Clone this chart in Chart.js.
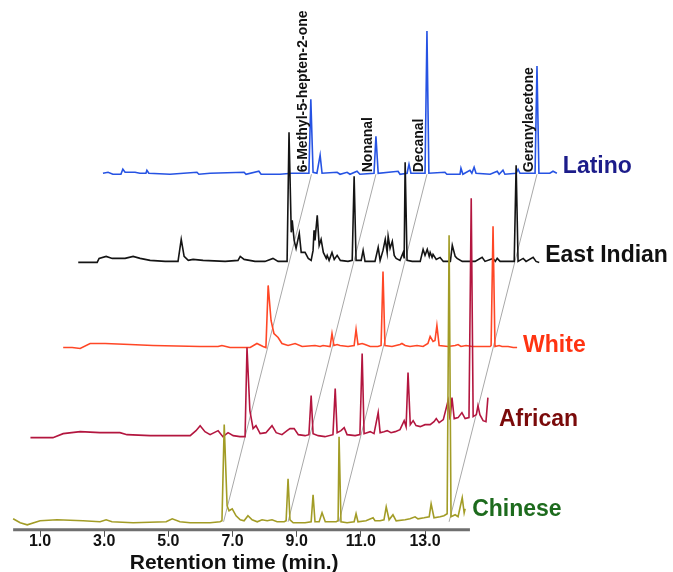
<!DOCTYPE html>
<html>
<head>
<meta charset="utf-8">
<script src="https://cdn.jsdelivr.net/npm/chart.js@4.4.0/dist/chart.umd.min.js"></script>
<style>
  html, body { margin: 0; padding: 0; background: #fff; }
  #wrap { width: 673px; height: 572px; }
</style>
</head>
<body>
<div id="wrap"><canvas id="gc"></canvas></div>
<script>
// retention times (min) and detector signal (arb. units)
const traceNames = ['Chinese', 'African', 'White', 'East Indian', 'Latino'];

const chineseTime = [0.16,0.38,0.6,1.0,1.53,2.34,2.87,3.06,3.24,3.9,4.93,5.12,5.36,5.68,6.3,6.61,6.67,6.74,6.83,6.89,6.99,7.11,7.24,7.36,7.48,7.61,7.77,7.92,8.08,8.23,8.39,8.61,8.67,8.73,8.79,8.89,9.26,9.45,9.51,9.57,9.7,9.79,9.89,10.23,10.29,10.32,10.38,10.57,10.79,10.85,10.91,11.16,11.38,11.44,11.6,11.72,11.79,11.88,12.0,12.1,12.38,12.53,12.69,12.78,12.97,13.13,13.19,13.28,13.47,13.59,13.69,13.75,13.81,13.94,14.03,14.16,14.22,14.25];
const chineseSignal = [3,-1,-3,1,2,1,0,2,0,-1,0,3,0,-1,-1,0,1,97,16,11,13,6,2,1,6,2,0,2,1,2,0,0,1,43,2,-1,-1,0,27,0,0,9,0,0,1,85,0,-1,0,8,0,1,4,1,1,2,15,2,7,1,2,3,5,3,4,5,18,4,5,6,8,286,5,7,5,24,9,13];

const africanTime = [0.0,0.7,1.02,1.55,2.17,2.79,3.01,3.73,4.98,5.16,5.29,5.44,5.6,5.85,6.0,6.16,6.32,6.53,6.69,6.75,6.84,6.94,7.03,7.16,7.34,7.53,7.66,7.84,8.0,8.09,8.22,8.35,8.56,8.68,8.75,8.81,8.97,9.18,9.43,9.5,9.56,9.68,9.78,9.87,10.12,10.27,10.34,10.4,10.59,10.71,10.84,10.9,11.02,11.12,11.24,11.37,11.52,11.65,11.71,11.77,11.84,11.93,12.02,12.15,12.3,12.46,12.58,12.65,12.74,12.87,13.02,13.08,13.14,13.21,13.33,13.45,13.55,13.67,13.74,13.8,13.9,13.95,14.01,14.11,14.2,14.26];
const africanSignal = [0,0,4,6,5,5,3,2,2,7,12,6,3,7,1,5,2,1,1,90,27,9,12,4,5,12,5,3,7,9,9,3,2,3,42,4,2,1,3,49,5,7,10,3,2,3,84,4,6,4,25,5,6,7,5,6,8,17,11,65,13,17,12,11,13,13,16,19,15,18,37,18,40,19,20,25,19,20,239,21,23,32,23,17,16,40];

const whiteTime = [0.35,0.63,0.88,1.19,1.66,2.43,3.15,4.62,5.18,5.3,5.55,6.18,6.39,6.58,6.67,6.74,6.83,6.92,7.05,7.17,7.36,7.58,7.8,8.2,8.36,8.45,8.67,8.73,8.79,8.89,8.98,9.23,9.42,9.48,9.54,9.67,9.76,9.92,10.16,10.26,10.32,10.38,10.6,10.85,10.91,11.01,11.16,11.38,11.57,11.72,11.79,11.88,11.94,12.0,12.07,12.35,12.57,12.66,12.75,12.91,13.1,13.66,13.69,13.75,13.81,13.94,14.03,14.22,14.38,14.5];
const whiteSignal = [0,0,-1,4,4,3,2,1,1,2,0,0,4,1,0,62,27,14,10,4,2,4,1,2,1,2,1,14,2,3,2,1,2,18,3,4,3,1,1,2,76,2,1,3,4,2,1,2,1,4,11,6,7,22,2,1,2,3,1,2,1,1,2,121,1,2,1,1,0,0];

const eastIndianTime = [0.13,0.72,0.78,1.0,1.19,1.59,1.84,2.06,2.37,2.84,3.24,3.34,3.43,3.56,3.71,4.02,4.71,5.11,5.18,5.3,5.64,5.95,6.2,6.36,6.64,6.7,6.77,6.8,6.86,6.92,7.02,7.08,7.2,7.3,7.39,7.45,7.48,7.51,7.58,7.64,7.7,7.77,7.86,7.89,7.95,8.04,8.11,8.2,8.3,8.54,8.67,8.73,8.79,8.95,9.01,9.07,9.38,9.48,9.54,9.63,9.7,9.76,9.79,9.85,9.92,9.98,10.04,10.16,10.26,10.29,10.32,10.38,10.54,10.79,10.88,10.94,11.01,11.07,11.1,11.16,11.19,11.29,11.41,11.51,11.73,11.79,11.88,11.94,12.1,12.5,12.72,12.81,13.06,13.13,13.19,13.28,13.72,13.78,13.84,14.0,14.09,14.31,14.4,14.5];
const eastIndianSignal = [0,0,4,6,4,4,6,4,2,1,1,23,6,2,3,2,1,2,6,3,1,1,4,1,1,130,30,42,22,14,29,10,10,4,2,12,32,22,47,17,23,10,4,7,2,10,3,7,2,1,2,86,2,2,12,1,1,15,2,12,23,10,26,14,21,7,4,2,10,4,100,2,1,1,13,7,13,6,10,5,8,3,5,1,1,17,6,4,1,1,5,1,4,1,4,1,1,97,1,4,1,5,1,0];

const latinoTime = [0.22,0.38,0.53,0.78,0.84,0.91,1.06,1.22,1.37,1.56,1.59,1.65,2.31,3.15,3.21,3.56,4.62,4.68,5.08,5.15,5.74,6.11,6.64,6.7,6.77,6.89,6.99,7.05,7.52,7.61,7.83,7.92,8.14,8.23,8.67,8.73,8.8,9.42,9.48,9.7,9.76,9.82,10.26,10.32,10.38,10.88,10.94,11.35,11.38,11.44,11.66,11.72,11.79,11.85,12.29,12.51,12.57,12.69,12.75,13.1,13.16,13.22,13.69,13.75,13.81,14.15,14.25,14.31,14.37];
const latinoSignal = [1,2,0,0,5,2,2,2,1,1,4,1,0,2,0,1,2,0,3,0,0,1,1,75,2,1,19,1,2,0,2,0,3,0,1,38,1,3,0,1,10,1,1,143,1,2,0,0,6,0,4,1,7,1,0,3,0,4,0,1,5,1,1,108,1,1,3,2,1];

const compoundNames = ['6-Methyl-5-hepten-2-one', 'Nonanal', 'Decanal', 'Geranylacetone'];
const compoundTimes = [6.72, 8.73, 10.32, 13.75];

const tickValues = [1, 3, 5, 7, 9, 11, 13];
const axisSpan = [0.16, 14.4];

// pseudo-3D stacking: each trace is pushed right (min) and up (units)
const shiftMin = [0, 0.70, 1.37, 2.06, 2.74];
const liftUnits = [8, 92, 182, 267, 355];
const traceColors = ['#a29c26', '#b3163f', '#ff4726', '#141414', '#2653e3'];
const labelColors = ['#1d6b1d', '#7a0a0a', '#ff3311', '#111111', '#1c1c8a'];
const labelGap = [7, 11, 6, 6, 6];
const labelRaise = [6, 12, -4, 0, 1];

const traceTimes = [chineseTime, africanTime, whiteTime, eastIndianTime, latinoTime];
const traceSignals = [chineseSignal, africanSignal, whiteSignal, eastIndianSignal, latinoSignal];

const FONT = '"Liberation Sans", Arial, sans-serif';

function tracePoints(k) {
  return traceTimes[k].map((t, i) => ({ x: t + shiftMin[k], y: traceSignals[k][i] + liftUnits[k] }));
}

const datasets = [];
traceNames.forEach((name, k) => {
  datasets.push({
    label: name,
    data: tracePoints(k),
    borderColor: traceColors[k],
    borderWidth: 1.6,
    pointRadius: 0,
    tension: 0,
    clip: false,
    order: 1
  });
});
compoundNames.forEach((name, i) => {
  datasets.push({
    label: name + ' link',
    data: [
      { x: compoundTimes[i] + shiftMin[0], y: liftUnits[0] },
      { x: compoundTimes[i] + shiftMin[4], y: liftUnits[4] }
    ],
    borderColor: '#a8a8a8',
    borderWidth: 1,
    pointRadius: 0,
    clip: false,
    order: 5
  });
});
datasets.push({
  label: 'axis',
  data: [{ x: axisSpan[0], y: 0 }, { x: axisSpan[1], y: 0 }],
  borderColor: '#6f6f6f',
  borderWidth: 3,
  pointRadius: 0,
  clip: false,
  order: 0
});

const labelPlugin = {
  id: 'labelPlugin',
  afterDatasetsDraw(chart) {
    const { ctx, chartArea } = chart;
    const x = chart.scales.x, y = chart.scales.y;
    ctx.save();

    ctx.font = 'bold 23px ' + FONT;
    ctx.textAlign = 'left';
    ctx.textBaseline = 'alphabetic';
    traceNames.forEach((name, k) => {
      const times = traceTimes[k];
      const px = x.getPixelForValue(times[times.length - 1] + shiftMin[k]) + labelGap[k];
      const py = y.getPixelForValue(liftUnits[k] + labelRaise[k]);
      ctx.fillStyle = labelColors[k];
      ctx.fillText(name, px, py);
    });

    ctx.font = 'bold 14px ' + FONT;
    ctx.fillStyle = '#111';
    ctx.textBaseline = 'middle';
    compoundNames.forEach((name, i) => {
      const px = x.getPixelForValue(compoundTimes[i] + shiftMin[4]) - 8;
      const py = y.getPixelForValue(liftUnits[4]) - 2;
      ctx.save();
      ctx.translate(px, py);
      ctx.rotate(-Math.PI / 2);
      ctx.fillText(name, 0, 0);
      ctx.restore();
    });

    ctx.font = 'bold 21px ' + FONT;
    ctx.textAlign = 'center';
    ctx.fillStyle = '#111';
    ctx.fillText('Retention time (min.)', x.getPixelForValue(7.05), chartArea.bottom + 33);
    ctx.restore();
  }
};

new Chart(document.getElementById('gc'), {
  type: 'line',
  data: { datasets: datasets },
  options: {
    responsive: true,
    maintainAspectRatio: false,
    animation: false,
    events: [],
    layout: { padding: { left: 8, right: 0, top: 0, bottom: 26 } },
    plugins: { legend: { display: false }, tooltip: { enabled: false } },
    scales: {
      x: {
        type: 'linear',
        min: 0,
        max: 20.73,
        afterBuildTicks: (scale) => { scale.ticks = tickValues.map(v => ({ value: v })); },
        ticks: {
          autoSkip: false,
          maxRotation: 0,
          padding: -5,
          color: '#111',
          font: { family: FONT, size: 16, weight: 'bold' },
          callback: (v) => Number(v).toFixed(1)
        },
        grid: { drawOnChartArea: false, drawTicks: true, tickLength: 7, color: '#555' },
        border: { display: false }
      },
      y: { type: 'linear', min: 0, max: 529, display: false }
    }
  },
  plugins: [labelPlugin]
});
</script>
</body>
</html>
